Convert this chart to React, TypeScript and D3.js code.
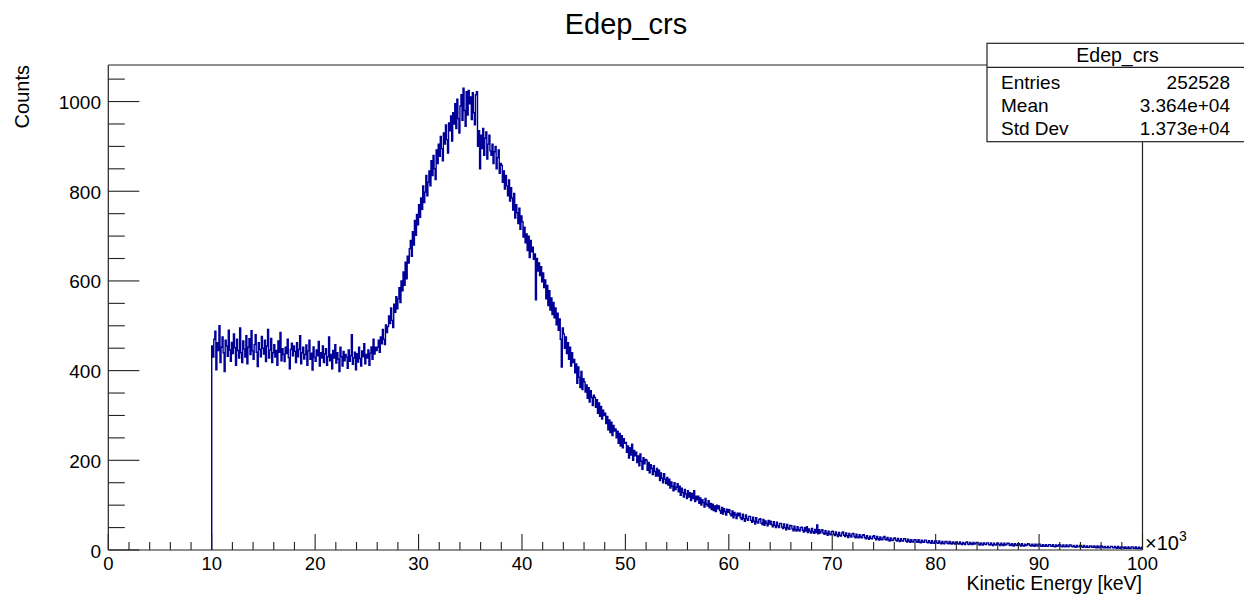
import React from "react";
import * as d3 from "d3";

// Histogram: bins of 0.1 (x10^3 keV) starting at 10 (x10^3 keV)
const binStart = 10;
const binWidth = 0.1;

// 10.0 – 25.9
const countsFlat: number[] = [
  455, 430, 470, 488, 402, 462, 445, 500, 418, 452,
  475, 440, 398, 468, 455, 432, 490, 446, 421, 463,
  438, 482, 451, 412, 470, 445, 428, 495, 440, 418,
  466, 448, 430, 478, 415, 452, 471, 436, 489, 444,
  425, 458, 480, 441, 409, 462, 447, 431, 476, 450,
  437, 468, 420, 455, 492, 428, 446, 472, 418, 440,
  458, 430, 445, 412, 466, 441, 485, 422, 449, 436,
  420, 452, 438, 470, 429, 404, 447, 461, 433, 455,
  443, 418, 462, 431, 447, 478, 415, 440, 452, 426,
  436, 457, 412, 444, 468, 425, 439, 401, 453, 430,
  421, 446, 433, 465, 410, 440, 428, 455, 418, 437,
  449, 412, 431, 475, 422, 436, 404, 445, 428, 458,
  417, 440, 426, 398, 452, 431, 410, 443, 422, 436,
  430, 405, 446, 421, 433, 480, 414, 428, 441, 402,
  438, 419, 452, 427, 410, 444, 431, 460, 415, 436,
  428, 446, 412, 439, 453, 425, 470, 437, 452, 445,
];

// 26.0 – 49.9
const countsPeak: number[] = [
  452, 468, 441, 475, 460, 492, 470, 458, 502, 485,
  498, 522, 505, 540, 512, 496, 548, 530, 565, 538,
  560, 585, 552, 600, 578, 620, 590, 642, 605, 655,
  640, 672, 690, 655, 710, 680, 735, 702, 748, 725,
  770, 742, 785, 760, 812, 775, 798, 835, 790, 820,
  845, 812, 868, 835, 880, 850, 826, 892, 862, 905,
  878, 922, 895, 868, 930, 905, 948, 915, 885, 952,
  935, 968, 912, 975, 950, 995, 940, 1005, 962, 930,
  990, 1015, 958, 1030, 980, 945, 1022, 970, 1025, 995,
  1010, 960, 1020, 975, 948, 1015, 1022, 900, 935, 850,
  925, 895, 940, 880, 918, 932, 872, 905, 925, 890,
  880, 905, 862, 888, 900, 850, 875, 892, 840, 862,
  858, 820, 845, 805, 835, 812, 790, 825, 778, 808,
  785, 758, 795, 740, 770, 752, 728, 762, 715, 745,
  732, 698, 720, 685, 705, 668, 700, 652, 690, 665,
  675, 648, 660, 558, 650, 622, 640, 612, 632, 598,
  618, 585, 602, 560, 590, 545, 578, 535, 562, 525,
  552, 518, 540, 502, 528, 490, 515, 470, 408, 495,
  482, 450, 475, 438, 462, 425, 452, 410, 440, 418,
  425, 395, 415, 372, 408, 385, 362, 398, 358, 382,
  375, 352, 368, 338, 362, 330, 355, 340, 322, 345,
  340, 318, 335, 305, 328, 298, 320, 292, 312, 300,
  305, 282, 298, 268, 290, 262, 285, 255, 278, 265,
  270, 250, 265, 238, 260, 232, 255, 228, 248, 238,
];

// 50.0 – 99.9
const countsTail: number[] = [
  240, 218, 232, 205, 228, 212, 236, 200, 222, 210,
  218, 195, 210, 188, 214, 198, 180, 206, 192, 202,
  200, 178, 195, 172, 190, 182, 168, 188, 175, 165,
  182, 165, 178, 155, 172, 160, 150, 170, 158, 148,
  162, 145, 158, 138, 152, 142, 132, 150, 135, 140,
  148, 130, 142, 122, 138, 128, 118, 135, 125, 115,
  132, 118, 128, 110, 126, 115, 132, 108, 120, 112,
  120, 104, 116, 100, 112, 106, 96, 115, 102, 98,
  110, 94, 104, 90, 102, 88, 98, 86, 100, 92,
  98, 88, 82, 95, 80, 92, 86, 78, 91, 84,
  90, 80, 76, 87, 72, 84, 78, 70, 82, 76,
  82, 72, 68, 80, 70, 64, 78, 70, 66, 75,
  75, 66, 62, 73, 64, 58, 72, 63, 60, 68,
  70, 60, 57, 68, 55, 65, 60, 54, 66, 58,
  64, 56, 52, 63, 55, 50, 62, 54, 50, 59,
  59, 51, 48, 58, 50, 45, 57, 49, 46, 55,
  54, 47, 43, 53, 45, 42, 52, 45, 42, 50,
  51, 44, 40, 50, 42, 52, 39, 47, 42, 38,
  48, 41, 37, 46, 39, 56, 36, 45, 38, 42,
  45, 38, 35, 43, 37, 33, 42, 36, 34, 41,
  42, 35, 32, 40, 34, 30, 39, 33, 31, 38,
  40, 33, 30, 38, 32, 28, 37, 32, 29, 36,
  37, 30, 27, 35, 29, 27, 34, 29, 27, 33,
  34, 28, 25, 32, 27, 24, 31, 26, 25, 30,
  32, 26, 23, 30, 25, 22, 29, 24, 23, 28,
  30, 24, 22, 28, 23, 20, 27, 22, 21, 26,
  27, 22, 20, 26, 21, 19, 25, 21, 20, 25,
  25, 20, 18, 24, 20, 17, 23, 19, 18, 23,
  23, 19, 17, 23, 18, 16, 22, 18, 17, 22,
  22, 17, 16, 21, 17, 15, 21, 16, 15, 20,
  20, 16, 15, 20, 16, 14, 19, 15, 14, 19,
  19, 15, 14, 19, 15, 13, 18, 15, 13, 18,
  18, 14, 13, 18, 14, 12, 17, 14, 12, 17,
  18, 13, 12, 17, 14, 12, 17, 13, 14, 17,
  17, 13, 11, 16, 13, 11, 16, 13, 12, 16,
  16, 12, 11, 16, 12, 10, 15, 12, 11, 15,
  15, 12, 10, 15, 12, 10, 15, 11, 12, 15,
  15, 11, 10, 14, 11, 9, 14, 11, 10, 14,
  14, 11, 9, 14, 10, 9, 13, 10, 11, 14,
  13, 10, 9, 13, 10, 8, 13, 10, 9, 13,
  13, 9, 8, 12, 9, 8, 12, 9, 8, 12,
  12, 9, 8, 12, 8, 7, 11, 8, 9, 12,
  11, 8, 7, 11, 8, 7, 11, 8, 7, 11,
  11, 8, 7, 10, 7, 6, 10, 7, 7, 10,
  10, 7, 6, 10, 7, 6, 9, 6, 6, 9,
  9, 6, 6, 9, 6, 5, 9, 6, 5, 9,
  9, 6, 5, 8, 5, 5, 8, 5, 5, 8,
  8, 5, 5, 8, 5, 4, 8, 5, 4, 7,
  7, 5, 4, 7, 4, 4, 7, 4, 4, 7,
  7, 4, 4, 7, 4, 3, 6, 4, 3, 6,
];

const xMajorTicks = [0, 10, 20, 30, 40, 50, 60, 70, 80, 90, 100];
const yMajorTicks = [0, 200, 400, 600, 800, 1000];

const statsTitle = "Edep_crs";
const statsLabels = ["Entries", "Mean", "Std Dev"];
const statsValues = ["252528", "3.364e+04", "1.373e+04"];

const FONT = "'Liberation Sans', Arial, Helvetica, sans-serif";

export default function App() {
  const W = 1244;
  const H = 596;
  const left = 108.3;
  const right = 1142.5;
  const top = 65;
  const bottom = 550;

  const counts = [...countsFlat, ...countsPeak, ...countsTail];
  const ymax = (d3.max(counts) as number) * 1.05;

  const x = d3.scaleLinear().domain([0, 100]).range([left, right]);
  const y = d3.scaleLinear().domain([0, ymax]).range([bottom, top]);

  const pts: [number, number][] = [[binStart, 0]];
  counts.forEach((c, i) => {
    const lo = binStart + i * binWidth;
    pts.push([lo, c]);
    pts.push([lo + binWidth, c]);
  });
  const line = d3
    .line<[number, number]>()
    .x((d) => x(d[0]))
    .y((d) => y(d[1]));
  const path = line(pts) || "";

  const xMinor = d3.range(0, 100.001, 2).filter((v) => Math.round(v) % 10 !== 0);
  const yMinor = d3.range(0, ymax, 50).filter((v) => Math.round(v) % 200 !== 0);

  const axisColor = "#222";
  const xMajLen = 16;
  const xMinLen = 8;
  const yMajLen = 31;
  const yMinLen = 16.5;

  return (
    <svg
      width={W}
      height={H}
      style={{ position: "absolute", left: 0, top: 0, display: "block", background: "#fff" }}
      fontFamily={FONT}
    >
      <rect x={0} y={0} width={W} height={H} fill="#fff" />
      {/* title */}
      <text x={626} y={34} fontSize={29} textAnchor="middle" fill="#000">
        Edep_crs
      </text>

      {/* histogram */}
      <path d={path} fill="none" stroke="#000099" strokeWidth={1.4} strokeLinejoin="miter" />

      {/* frame */}
      <line x1={left} x2={right} y1={top} y2={top} stroke={axisColor} strokeWidth={1.2} />
      <line x1={right} x2={right} y1={top} y2={bottom} stroke={axisColor} strokeWidth={1.2} />

      {/* x axis */}
      <line x1={left} x2={right} y1={bottom} y2={bottom} stroke={axisColor} strokeWidth={1.2} />
      {xMajorTicks.map((t) => (
        <g key={"xm" + t}>
          <line x1={x(t)} x2={x(t)} y1={bottom} y2={bottom - xMajLen} stroke={axisColor} strokeWidth={1.1} />
          <text x={x(t)} y={569.5} fontSize={18.5} textAnchor="middle" fill="#000">
            {t}
          </text>
        </g>
      ))}
      {xMinor.map((t) => (
        <line key={"xn" + t} x1={x(t)} x2={x(t)} y1={bottom} y2={bottom - xMinLen} stroke={axisColor} strokeWidth={1.1} />
      ))}
      <text x={1145} y={550} fontSize={20} fill="#000">
        ×10
        <tspan fontSize={14} dy={-9}>
          3
        </tspan>
      </text>
      <text x={1142} y={590} fontSize={19.5} textAnchor="end" fill="#000">
        Kinetic Energy [keV]
      </text>

      {/* y axis */}
      <line x1={left} x2={left} y1={top} y2={bottom} stroke={axisColor} strokeWidth={1.2} />
      {yMajorTicks.map((t) => (
        <g key={"ym" + t}>
          <line x1={left} x2={left + yMajLen} y1={y(t)} y2={y(t)} stroke={axisColor} strokeWidth={1.1} />
          <text x={101} y={y(t) + 7.5} fontSize={19} textAnchor="end" fill="#000">
            {t}
          </text>
        </g>
      ))}
      {yMinor.map((t) => (
        <line key={"yn" + t} x1={left} x2={left + yMinLen} y1={y(t)} y2={y(t)} stroke={axisColor} strokeWidth={1.1} />
      ))}
      <text transform="translate(28.5,65) rotate(-90)" fontSize={20} textAnchor="end" fill="#000">
        Counts
      </text>

      {/* stats box */}
      <rect x={987} y={43.3} width={270} height={98.4} fill="#fff" stroke={axisColor} strokeWidth={1.2} />
      <line x1={987} x2={1257} y1={67.3} y2={67.3} stroke={axisColor} strokeWidth={1.2} />
      <text x={1117.5} y={61.5} fontSize={19.5} textAnchor="middle" fill="#000">
        {statsTitle}
      </text>
      {statsLabels.map((l, i) => (
        <g key={l}>
          <text x={1001} y={88.5 + i * 23.3} fontSize={19} fill="#000">
            {l}
          </text>
          <text x={1230} y={88.5 + i * 23.3} fontSize={19} textAnchor="end" fill="#000">
            {statsValues[i]}
          </text>
        </g>
      ))}
    </svg>
  );
}
